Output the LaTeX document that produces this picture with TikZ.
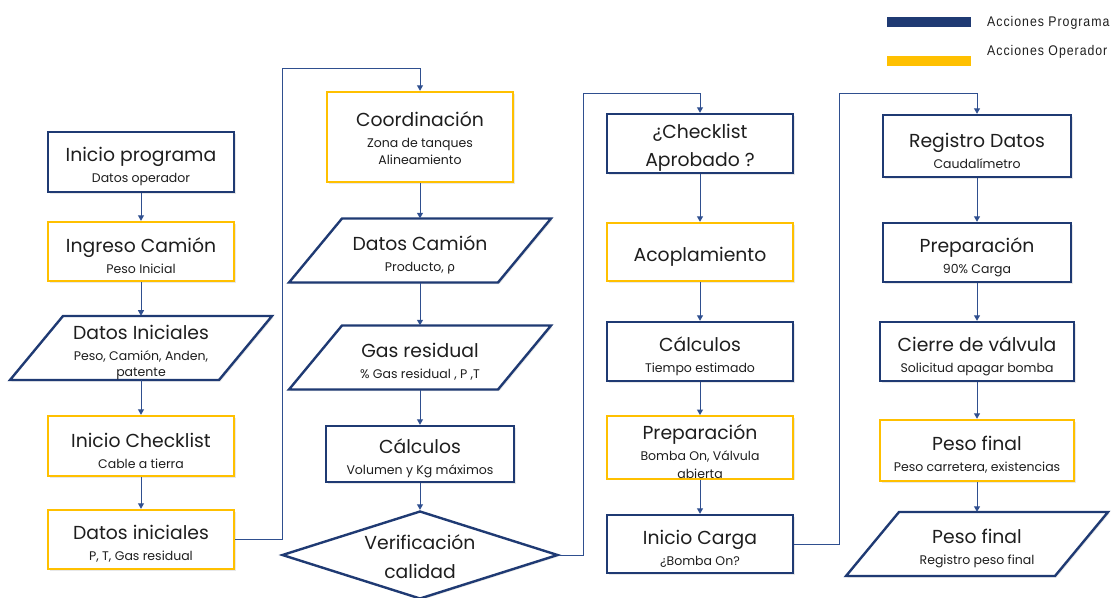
\documentclass[tikz,border=0pt]{standalone}
\usepackage{fontspec}
\setmainfont{Poppins}
\newfontfamily\legfont[FakeStretch=0.88,LetterSpace=7]{Liberation Sans}
\newfontfamily\grk{DejaVu Sans}
\usetikzlibrary{shapes.geometric,arrows.meta,calc,shadows}
\definecolor{navy}{HTML}{1F3A73}
\definecolor{gold}{HTML}{FFC000}
\definecolor{lnk}{HTML}{2F4F8F}
\definecolor{txt}{HTML}{1E1E1E}
\newcommand{\ttl}[1]{\raisebox{0pt}[23.4pt][5pt]{\fontsize{18.8}{22}\selectfont #1}}
\newcommand{\ttlhi}[1]{\raisebox{0pt}[17.4pt][5pt]{\fontsize{18.8}{22}\selectfont #1}}
\newcommand{\parabox}[4]{%
  \draw[paraline] (#2-78,#3-32) -- (#2+131,#3-32) -- (#2+78,#3+32) -- (#2-131,#3+32) -- cycle;
  \node[paratext] (#1) at (#2,#3) {#4};}
\tikzset{
  softshadow/.style={drop shadow={opacity=0.18, shadow xshift=1.5pt, shadow yshift=-1.5pt}},
  box/.style={rectangle, inner sep=0, minimum width=186, minimum height=60, align=center,
    text=txt, font=\fontsize{12.5}{16.5}\selectfont, line width=2.4, fill=white, softshadow},
  prog/.style={box, draw=navy},
  oper/.style={box, draw=gold},
  paraline/.style={draw=navy, line width=2.4, fill=white, softshadow},
  paratext/.style={rectangle, inner sep=0, minimum width=209, minimum height=64, align=center,
    text=txt, font=\fontsize{12.5}{16.5}\selectfont},
  conn/.style={draw=lnk, line width=1, -{Triangle[width=6pt,length=5.5pt]}},
  link/.style={draw=lnk, line width=1},
  legtext/.style={anchor=west, inner sep=0, text=txt, font=\legfont\fontsize{14}{16}\selectfont},
}
\begin{document}
\begin{tikzpicture}[x=1pt,y=-1pt]
\useasboundingbox (0,0) rectangle (1118,597);

% legend
\fill[navy] (887,17) rectangle (971,27);
\fill[gold] (887,56) rectangle (971,66);
\node[legtext] (lp) at (987,23) {Acciones Programa};
\node[legtext] (lo) at (987,52) {Acciones Operador};

% column 1
\node[prog, minimum height=60] (a1) at (141,162) {\ttl{Inicio programa}\\[4.5pt]Datos operador};
\node[oper, minimum height=59] (a2) at (141,251.5) {\ttl{Ingreso Camión}\\[4.5pt]Peso Inicial};
\parabox{a3}{141}{348}{\ttl{Datos Iniciales}\\[4.5pt]Peso, Camión, Anden,\\patente};
\node[oper, minimum height=60] (a4) at (141,446) {\ttl{Inicio Checklist}\\[4.5pt]Cable a tierra};
\node[oper, minimum height=59] (a5) at (141,539.5) {\ttl{Datos iniciales}\\[4.5pt]P, T, Gas residual};

% column 2
\node[oper, minimum height=90] (b1) at (420,137) {\ttlhi{Coordinación}\\[4.5pt]Zona de tanques\\Alineamiento};
\parabox{b2}{420}{250.5}{\ttl{Datos Camión}\\[4.5pt]Producto, {\grk ρ}};
\parabox{b3}{420}{357.5}{\ttl{Gas residual}\\[4.5pt]\% Gas residual , P ,T};
\node[prog, minimum width=188, minimum height=56] (b4) at (420,454) {\ttl{Cálculos}\\[4.5pt]Volumen y Kg máximos};
\node[draw=navy, line width=2.4, fill=white, shape=diamond, aspect=3.14, inner sep=0, minimum width=276,
  minimum height=88, align=center, text=txt, font=\fontsize{18.8}{29}\selectfont, softshadow]
  (b5) at (420,555) {\ttlhi{Verificación}\\calidad};

% column 3
\node[prog, minimum height=59, font=\fontsize{18.8}{28}\selectfont] (c1) at (700,143.5) {\ttl{¿Checklist}\\Aprobado ?};
\node[oper, minimum height=58] (c2) at (700,252) {\ttl{Acoplamiento}};
\node[prog, minimum height=59] (c3) at (700,351.5) {\ttl{Cálculos}\\[4.5pt]Tiempo estimado};
\node[oper, minimum height=61, font=\fontsize{12.5}{18}\selectfont] (c4) at (700,447.5) {\ttl{Preparación}\\[3pt]Bomba On, Válvula\\abierta};
\node[prog, minimum height=58] (c5) at (700,544) {\ttl{Inicio Carga}\\[4.5pt]¿Bomba On?};

% column 4
\node[prog, minimum width=188, minimum height=62] (d1) at (977,146) {\ttl{Registro Datos}\\[4.5pt]Caudalímetro};
\node[prog, minimum width=188, minimum height=59] (d2) at (977,252.5) {\ttl{Preparación}\\[4.5pt]90\% Carga};
\node[prog, minimum width=194, minimum height=59] (d3) at (977,351.5) {\ttl{Cierre de válvula}\\[4.5pt]Solicitud apagar bomba};
\node[oper, minimum width=194, minimum height=61] (d4) at (977,450.5) {\ttl{Peso final}\\[4.5pt]Peso carretera, existencias};
\parabox{d5}{977}{544}{\ttl{Peso final}\\[4.5pt]Registro peso final};

% vertical connectors
\foreach \u/\v in {a1/a2,a2/a3,a3/a4,a4/a5,b1/b2,b2/b3,b3/b4,b4/b5,c1/c2,c2/c3,c3/c4,c4/c5,d1/d2,d2/d3,d3/d4,d4/d5}
  \draw[conn] (\u.south) -- (\v.north);

% cross-column connectors
\coordinate (j1) at (282,68);
\coordinate (j2) at (583,93);
\coordinate (j3) at (839,93);
\draw[link] (a5.east) -| (j1);
\draw[conn] (j1) -| (b1.north);
\draw[link] (b5.east) -| (j2);
\draw[conn] (j2) -| (c1.north);
\draw[link] (c5.east) -| (j3);
\draw[conn] (j3) -| (d1.north);
\end{tikzpicture}
\end{document}
